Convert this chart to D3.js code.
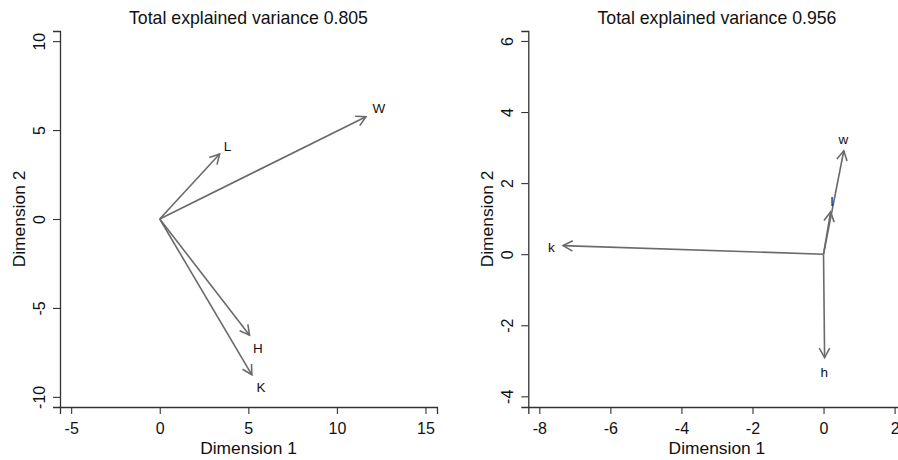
<!DOCTYPE html>
<html><head><meta charset="utf-8">
<script src="https://cdn.jsdelivr.net/npm/d3@7"></script>
<style>
body{margin:0;background:#fff;}
svg{display:block;font-family:"Liberation Sans",Arial,Helvetica,sans-serif;}
</style></head>
<body><svg id="chart" width="898" height="460"></svg>
<script>
// Panel 1 data
const titles = ["Total explained variance 0.805", "Total explained variance 0.956"];
const names1 = ["L", "W", "H", "K"];
const dim1_1 = [3.38, 11.64, 5.07, 5.20];
const dim2_1 = [3.65, 5.75, -6.53, -8.76];
const labX1 = [3.82, 12.37, 5.54, 5.71];
const labY1 = [4.12, 6.25, -7.26, -9.47];
const xTicks1 = [-5, 0, 5, 10, 15];
const yTicks1 = [-10, -5, 0, 5, 10];
// Panel 2 data
const names2 = ["k", "h", "l", "w"];
const dim1_2 = [-7.33, 0.03, 0.20, 0.57];
const dim2_2 = [0.24, -2.91, 1.19, 2.91];
const labX2 = [-7.66, 0.02, 0.24, 0.56];
const labY2 = [0.21, -3.31, 1.50, 3.24];
const xTicks2 = [-8, -6, -4, -2, 0, 2];
const yTicks2 = [-4, -2, 0, 2, 4, 6];

const svg = d3.select("#chart");
const defs = svg.append("defs");
defs.append("marker").attr("id","ah").attr("markerUnits","userSpaceOnUse")
  .attr("viewBox","-12 -7 14 14").attr("refX",0).attr("refY",0)
  .attr("markerWidth",14).attr("markerHeight",14).attr("orient","auto")
  .append("path").attr("d","M-9.5,-5.2L0,0L-9.5,5.2").attr("fill","none")
  .attr("stroke","#6a6a6a").attr("stroke-width",1.6);

const panels = [
  {title:titles[0], names:names1, xs:dim1_1, ys:dim2_1, lx:labX1, ly:labY1, xt:xTicks1, yt:yTicks1,
   xd:[-5.63,15.65], xr:[60,437], yd:[-10.57,10.57], yr:[407,31], ylx:25},
  {title:titles[1], names:names2, xs:dim1_2, ys:dim2_2, lx:labX2, ly:labY2, xt:xTicks2, yt:yTicks2,
   xd:[-8.31,2.31], xr:[528.3,905.6], yd:[-4.3,6.28], yr:[407,31], ylx:493}
];

panels.forEach(p => {
  const x = d3.scaleLinear().domain(p.xd).range(p.xr);
  const y = d3.scaleLinear().domain(p.yd).range(p.yr);
  const g = svg.append("g");
  const yb = p.yr[0], xl = p.xr[0];

  const xa = g.append("g").attr("transform",`translate(0,${yb})`)
    .call(d3.axisBottom(x).tickValues(p.xt).tickSizeOuter(0).tickSize(7).tickFormat(d => String(d)));
  const ya = g.append("g").attr("transform",`translate(${xl},0)`)
    .call(d3.axisLeft(y).tickValues(p.yt).tickSizeOuter(0).tickSize(7).tickFormat(d => String(d)));
  [xa, ya].forEach(a => {
    a.select(".domain").attr("stroke","#333").attr("stroke-width",1.3);
    a.selectAll(".tick line").attr("stroke","#333").attr("stroke-width",1.1);
    a.selectAll("text").attr("font-size",16).attr("fill","#111").attr("font-family",null);
  });
  xa.selectAll("text").attr("dy",null).attr("y",27);
  ya.selectAll(".tick text").attr("x",null).attr("dy",null)
    .attr("text-anchor","middle").attr("transform","translate(-15,0) rotate(-90)");

  // title
  g.append("text").attr("x",(p.xr[0]+p.xr[1])/2).attr("y",24).attr("text-anchor","middle")
    .attr("font-size",17.7).attr("fill","#111").text(p.title);
  g.append("text").attr("x",(p.xr[0]+p.xr[1])/2).attr("y",454).attr("text-anchor","middle")
    .attr("font-size",17.4).attr("fill","#111").text("Dimension 1");
  g.append("text").attr("transform",`translate(${p.ylx},${(p.yr[0]+p.yr[1])/2}) rotate(-90)`)
    .attr("text-anchor","middle").attr("font-size",17.4).attr("fill","#111").text("Dimension 2");

  const idx = d3.range(p.names.length);
  g.selectAll("line.arr").data(idx).join("line").attr("class","arr")
    .attr("x1",x(0)).attr("y1",y(0)).attr("x2",i=>x(p.xs[i])).attr("y2",i=>y(p.ys[i]))
    .attr("stroke","#6a6a6a").attr("stroke-width",1.6).attr("marker-end","url(#ah)");
  g.selectAll("text.lab").data(idx).join("text").attr("class","lab")
    .attr("x",i=>x(p.lx[i])).attr("y",i=>y(p.ly[i])).attr("dy","0.36em")
    .attr("text-anchor","middle").attr("font-size",13.5).attr("fill","#111").text(i=>p.names[i]);
});
</script></body></html>
